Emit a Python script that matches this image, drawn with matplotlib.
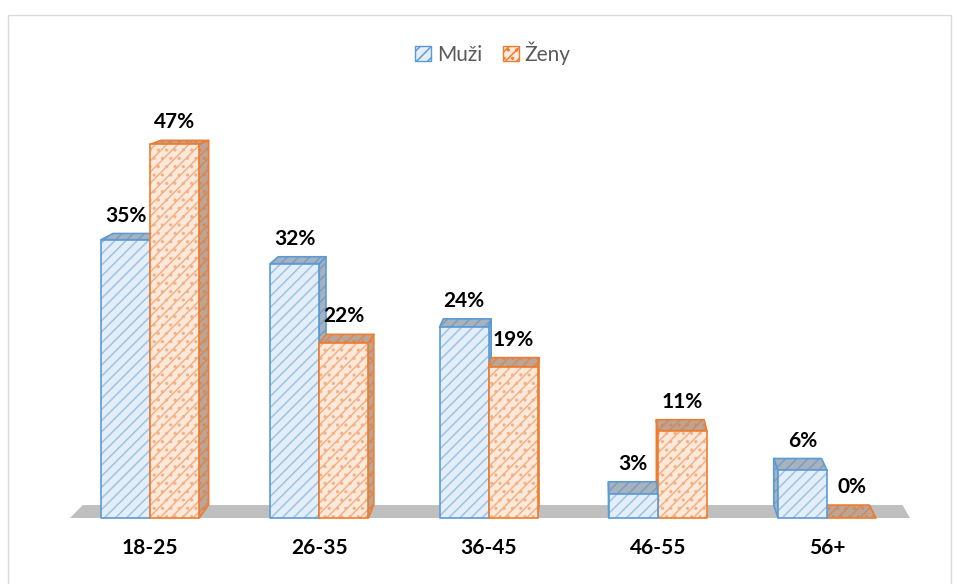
import matplotlib
matplotlib.use("Agg")
from matplotlib import pyplot as plt
from matplotlib.patches import Polygon, Rectangle, Patch

plt.rcParams['font.family'] = ['Lato', 'DejaVu Sans']
plt.rcParams['hatch.linewidth'] = 1.1

# Data
categories = ['18-25', '26-35', '36-45', '46-55', '56+']
muzi = [35, 32, 24, 3, 6]
zeny = [47, 22, 19, 11, 0]
series_names = ['Muži', 'Ženy']

# Styles: front fill, front hatch, side fill, side hatch, edge, hatch pattern
styles = {
    'Muži': ('#E3EEF9', '#9DC3E6', '#A7B2BF', '#7D9CC0', '#5B9BD5', '///'),
    'Ženy': ('#FDE9DC', '#F4B183', '#BBA596', '#D3895A', '#ED7D31', '///..'),
}

# Axis mapping: 1 category = 169.25 px, 1 % = 7.95 px
PX_X, PX_Y = 169.25, 7.95
X0_PX, Y0_PX = 150, 518
W, H = 959, 584
BAR_W = 49 / PX_X
# perspective: back points pulled towards a vanishing point
VPX = (600 - X0_PX) / PX_X
VPY = (Y0_PX + 21) / PX_Y
DEPTH = 0.024


def back(x, y):
    return (x + DEPTH * (VPX - x), y + DEPTH * (VPY - y))


def face(ax, pts, fill, hatch_c, edge_c, hatch, z):
    # hatched fill first, then the outline on top of it
    ax.add_patch(Polygon(pts, closed=True, facecolor=fill, edgecolor=hatch_c,
                         lw=0, hatch=hatch, zorder=z))
    ax.add_patch(Polygon(pts, closed=True, fill=False, edgecolor=edge_c,
                         lw=1.2, joinstyle='round', zorder=z + 0.01))


fig = plt.figure(figsize=(W / 100, H / 100), dpi=100)
ax = fig.add_axes([0, 0, 1, 1])
ax.set_xlim(-X0_PX / PX_X, (W - X0_PX) / PX_X)
ax.set_ylim(-(H - Y0_PX) / PX_Y, Y0_PX / PX_Y)
ax.axis('off')

# chart frame
fig.add_artist(Rectangle((8 / W, -0.1), (951 - 8) / W, 1.1 - 15 / H,
                         transform=fig.transFigure, fill=False,
                         edgecolor='#D9D9D9', lw=1))

# floor
xl, xr = (70 - X0_PX) / PX_X, (910 - X0_PX) / PX_X
ax.add_patch(Polygon([(xl, 0), (xr, 0), back(xr, 0), back(xl, 0)],
                     closed=True, facecolor='#BFBFBF', edgecolor='none', zorder=1))

# collect bars, draw farthest from vanishing point first
bars = []
for i, cat in enumerate(categories):
    bars.append((i - BAR_W, muzi[i], 'Muži'))
    bars.append((i, zeny[i], 'Ženy'))
bars.sort(key=lambda b: -abs(b[0] + BAR_W / 2 - VPX))

z = 2
for x0, h, name in bars:
    front_c, front_h, side_c, side_h, edge_c, hatch = styles[name]
    x1 = x0 + BAR_W
    if x1 < VPX:
        side = [(x1, 0), (x1, h), back(x1, h), back(x1, 0)]
    else:
        side = [(x0, 0), (x0, h), back(x0, h), back(x0, 0)]
    face(ax, side, side_c, side_h, edge_c, hatch, z)
    top = [(x0, h), (x1, h), back(x1, h), back(x0, h)]
    face(ax, top, side_c, side_h, edge_c, hatch, z + 0.1)
    if h > 0:
        front = [(x0, 0), (x1, 0), (x1, h), (x0, h)]
        face(ax, front, front_c, front_h, edge_c, hatch, z + 0.2)
    ax.text(x0 + BAR_W / 2, back(x0, h)[1] + 1.0, f'{h}%', ha='center',
            va='bottom', fontsize=15, fontweight='bold', color='black',
            zorder=20)
    z += 1

# category labels
for i, cat in enumerate(categories):
    ax.text(i, -(548 - Y0_PX) / PX_Y, cat, ha='center', va='center',
            fontsize=15, fontweight='bold', color='black')

handles = [Patch(facecolor=styles[n][0], edgecolor=styles[n][4], hatch=styles[n][5])
           for n in series_names]
leg = ax.legend(handles, series_names, loc='center', bbox_to_anchor=(493 / W, 1 - 53 / H),
                ncol=2, frameon=False, fontsize=15, handlelength=0.75,
                handleheight=0.75, handletextpad=0.3, columnspacing=1.0)
for t in leg.get_texts():
    t.set_color('#595959')

fig.savefig('out.png', dpi=100)
